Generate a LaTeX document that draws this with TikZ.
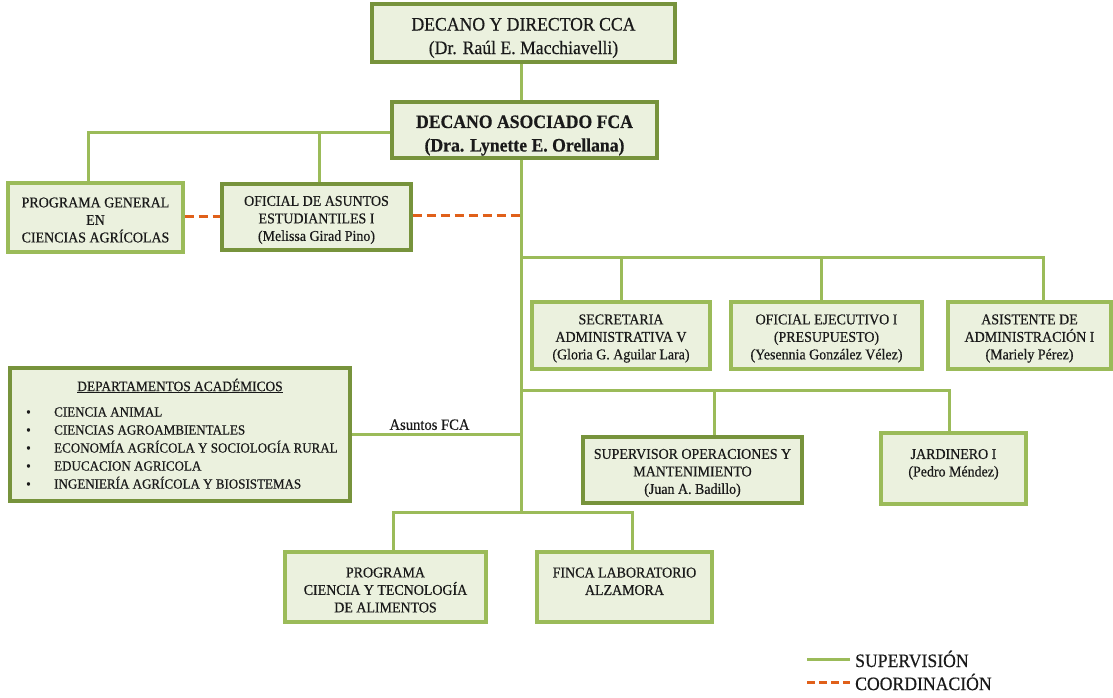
\documentclass[tikz,border=0pt]{standalone}
\usepackage{fontspec}
\setmainfont{Liberation Serif}[FakeStretch=0.93, RawFeature={embolden=0.5}]
\usetikzlibrary{calc}

\definecolor{boxfill}{HTML}{EBF1DE}
\definecolor{boxdark}{HTML}{77933C}
\definecolor{boxlight}{HTML}{9BBB59}
\definecolor{linkgreen}{HTML}{9BBB59}
\definecolor{coordorange}{HTML}{E0601A}
\definecolor{ink}{HTML}{1A1A1A}

\tikzset{
  box/.style={draw=boxdark, fill=boxfill, line width=3.2pt, inner sep=0pt},
  lightbox/.style={box, draw=boxlight},
  boxtext/.style={align=center, inner sep=0pt, text=ink, font=\fontsize{15}{17.5}\selectfont},
  headtext/.style={boxtext, font=\fontsize{19}{23.5}\selectfont},
  link/.style={draw=linkgreen, line width=3pt},
  coordline/.style={draw=coordorange, line width=3pt, dash pattern=on 9pt off 5pt},
  legendtext/.style={anchor=west, inner sep=0pt, text=ink, font=\fontsize{19}{22}\selectfont},
}

% box outline plus its text, the text set a little below the centre
% #1 outline style, #2 name, #3 centre, #4 width, #5 height, #6 text style, #7 drop, #8 text
\newcommand\orgbox[8]{%
  \node[#1, minimum width=#4, minimum height=#5] (#2) at (#3) {};
  \node[#6] (#2-text) at ([yshift=-#7]#2.center) {#8};}

\begin{document}
\begin{tikzpicture}[x=1pt, y=-1pt]
\useasboundingbox (0,0) rectangle (1113,698);

% main vertical line of the dean's office
\coordinate (spine) at (521,0);

% boxes
\orgbox{box}{dec}{523.5,33}{303pt}{58pt}{headtext}{5pt}
  {DECANO Y DIRECTOR CCA\\(Dr. Raúl E. Macchiavelli)}
\orgbox{box}{asoc}{524.5,130}{265pt}{56pt}{headtext, font=\bfseries\fontsize{19}{23.5}\selectfont}{5.5pt}
  {DECANO ASOCIADO FCA\\(Dra. Lynette E. Orellana)}
\orgbox{lightbox}{prog}{95.5,217.5}{175pt}{69pt}{boxtext}{2.5pt}
  {PROGRAMA GENERAL\\EN\\CIENCIAS AGRÍCOLAS}
\orgbox{box}{ofas}{316.5,217}{189pt}{66pt}{boxtext}{3pt}
  {OFICIAL DE ASUNTOS\\ESTUDIANTILES I\\(Melissa Girad Pino)}
\orgbox{lightbox}{sec}{621,335.5}{178pt}{67pt}{boxtext}{3pt}
  {SECRETARIA\\ADMINISTRATIVA V\\(Gloria G. Aguilar Lara)}
\orgbox{lightbox}{ofej}{826.5,335.5}{191pt}{67pt}{boxtext}{3pt}
  {OFICIAL EJECUTIVO I\\(PRESUPUESTO)\\(Yesennia González Vélez)}
\orgbox{lightbox}{asis}{1029.5,335.5}{163pt}{67pt}{boxtext}{3pt}
  {ASISTENTE DE\\ADMINISTRACIÓN I\\(Mariely Pérez)}
\orgbox{box}{sup}{692.5,470}{219pt}{66pt}{boxtext}{3pt}
  {SUPERVISOR OPERACIONES Y\\MANTENIMIENTO\\(Juan A. Badillo)}
\orgbox{lightbox}{jard}{953.5,468.5}{145pt}{71pt}{boxtext}{3pt}
  {JARDINERO I\\(Pedro Méndez)\\\mbox{}}
\orgbox{lightbox}{pcta}{385.5,587}{201pt}{70pt}{boxtext}{3pt}
  {PROGRAMA\\CIENCIA Y TECNOLOGÍA\\DE ALIMENTOS}
\orgbox{lightbox}{finca}{624.5,587}{175pt}{70pt}{boxtext}{3pt}
  {FINCA LABORATORIO\\ALZAMORA\\\mbox{}}

% academic departments
\node[box, minimum width=340pt, minimum height=133pt] (dept) at (180,434.5) {};
\node[boxtext, font=\fontsize{14.4}{17.5}\selectfont]
  (depttitle) at (180,386) {\underline{DEPARTAMENTOS ACADÉMICOS}};
\node[anchor=west, align=left, text=ink, inner sep=0pt, font=\fontsize{14}{18}\selectfont]
  (deptlist) at (26,448) {%
  \makebox[28pt][l]{\textbullet}CIENCIA ANIMAL\\
  \makebox[28pt][l]{\textbullet}CIENCIAS AGROAMBIENTALES\\
  \makebox[28pt][l]{\textbullet}ECONOMÍA AGRÍCOLA Y SOCIOLOGÍA RURAL\\
  \makebox[28pt][l]{\textbullet}EDUCACION AGRICOLA\\
  \makebox[28pt][l]{\textbullet}INGENIERÍA AGRÍCOLA Y BIOSISTEMAS};

% junctions
\coordinate (b1) at (521,257);
\coordinate (b2) at (521,390);
\coordinate (bj) at (521,512);

% supervision lines
\draw[link] (dec.south -| spine) -- (asoc.north -| spine);
\draw[link] ([yshift=-3pt]asoc.west) -| ([xshift=-7.5pt]prog.north);
\draw[link] ([xshift=2.5pt]ofas.north) |- ([yshift=-3pt]asoc.west);
\draw[link] (asoc.south -| spine) -- (bj);
\draw[link] (b1) -| ([xshift=13.5pt]asis.north);
\draw[link] (sec.north) -- (sec.north |- b1);
\draw[link] ([xshift=-5.5pt]ofej.north) -- ([xshift=-5.5pt]ofej.north |- b1);
\draw[link] (b2) -| ([xshift=-4.5pt]jard.north);
\draw[link] ([xshift=21.5pt]sup.north) -- ([xshift=21.5pt]sup.north |- b2);
\draw[link] (dept.east) -- (dept.east -| spine)
  node[pos=0.46, above=3pt, text=ink, inner sep=0pt, font=\fontsize{15.7}{17}\selectfont] (asuntos) {Asuntos FCA};
\draw[link] (bj) -| ([xshift=7.5pt]pcta.north);
\draw[link] (bj) -| ([xshift=7.5pt]finca.north);

% coordination lines
\draw[coordline] ([yshift=1.5pt]prog.east) -- ([yshift=1.5pt]prog.east -| ofas.west);
\draw[coordline] ([yshift=1.5pt]ofas.east) -- ([yshift=1.5pt]ofas.east -| spine);

% legend
\coordinate (lgA1) at (807,659);
\coordinate (lgA2) at (850,659);
\coordinate (lgB1) at (807,682);
\coordinate (lgB2) at (850,682);
\draw[link] (lgA1) -- (lgA2);
\draw[draw=coordorange, line width=3pt, dash pattern=on 8pt off 4pt] (lgB1) -- (lgB2);
\node[legendtext] (lgsup) at (855,659) {SUPERVISIÓN};
\node[legendtext] (lgcoord) at (855,682) {COORDINACIÓN};
\end{tikzpicture}
\end{document}
